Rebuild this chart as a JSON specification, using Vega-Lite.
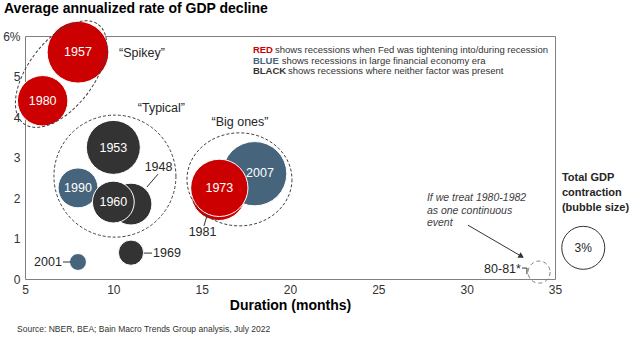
{
  "$schema": "https://vega.github.io/schema/vega-lite/v6.json",
  "width": 530,
  "height": 243,
  "autosize": {"type": "none"},
  "padding": {"left": 25, "top": 36, "right": 75, "bottom": 63},
  "title": {
    "text": "Average annualized rate of GDP decline",
    "anchor": "start",
    "frame": "group",
    "dx": -21,
    "dy": 14,
    "offset": 6,
    "baseline": "alphabetic",
    "fontSize": 14,
    "fontWeight": "bold",
    "color": "#000000"
  },
  "datasets": {
    "recessions": [
      {"year": "1981", "x": 15.95, "y": 2.12, "contraction": 2.85, "type": "Fed"},
      {"year": "2007", "x": 18, "y": 2.6, "contraction": 3.9, "type": "Financial"},
      {"year": "1973", "x": 16, "y": 2.25, "contraction": 3.1, "type": "Fed"},
      {"year": "1948", "x": 11, "y": 1.85, "contraction": 1.65, "type": "Neither"},
      {"year": "1990", "x": 8, "y": 2.25, "contraction": 1.5, "type": "Financial"},
      {"year": "1960", "x": 10, "y": 1.9, "contraction": 1.65, "type": "Neither"},
      {"year": "1953", "x": 10, "y": 3.25, "contraction": 2.75, "type": "Neither"},
      {"year": "1957", "x": 8, "y": 5.6, "contraction": 3.6, "type": "Fed"},
      {"year": "1980", "x": 6, "y": 4.4, "contraction": 2.4, "type": "Fed"},
      {"year": "1969", "x": 11, "y": 0.65, "contraction": 0.6, "type": "Neither"},
      {"year": "2001", "x": 8, "y": 0.42, "contraction": 0.27, "type": "Financial"}
    ],
    "combined": [
      {"label": "80-81*", "x": 34.1, "y": 0.17, "contraction": 0.46}
    ],
    "innerLabels": [
      {"text": "2007", "x": 18.3, "y": 2.62},
      {"text": "1973", "x": 16, "y": 2.25},
      {"text": "1990", "x": 8, "y": 2.25},
      {"text": "1960", "x": 10, "y": 1.9},
      {"text": "1953", "x": 10, "y": 3.23},
      {"text": "1957", "x": 8, "y": 5.6},
      {"text": "1980", "x": 6, "y": 4.4}
    ],
    "centerLabels": [
      {"text": "1948", "x": 12.56, "y": 2.77},
      {"text": "1981", "x": 15.05, "y": 1.16}
    ],
    "leftLabels": [
      {"text": "1969", "x": 12.25, "y": 0.64}
    ],
    "rightLabels": [
      {"text": "2001", "x": 7.09, "y": 0.42},
      {"text": "80-81*", "x": 33.07, "y": 0.25}
    ],
    "leaders": [
      {"item": "1948", "x": 12.53, "y": 2.59, "x2": 11.9, "y2": 2.27},
      {"item": "1981", "x": 15.3, "y": 1.56, "x2": 15.13, "y2": 1.31},
      {"item": "1969", "x": 11.73, "y": 0.64, "x2": 12.19, "y2": 0.64},
      {"item": "2001", "x": 7.15, "y": 0.42, "x2": 7.6, "y2": 0.42},
      {"item": "80-81 a", "x": 33.13, "y": 0.27, "x2": 33.41, "y2": 0.27},
      {"item": "80-81 b", "x": 33.41, "y": 0.27, "x2": 33.41, "y2": 0.12},
      {"item": "arrow", "x": 30.07, "y": 1.33, "x2": 33.18, "y2": 0.54}
    ],
    "arrowHead": [
      {"item": "arrow", "x": 33.1, "y": 0.56}
    ],
    "groupNames": [
      {"text": "\u201cSpikey\u201d", "x": 11.62, "y": 5.58},
      {"text": "\u201cTypical\u201d", "x": 12.72, "y": 4.22},
      {"text": "\u201cBig ones\u201d", "x": 17.17, "y": 3.88}
    ],
    "legendKeys": [
      {"text": "RED", "type": "Fed", "x": 17.9, "y": 5.65},
      {"text": "BLUE", "type": "Financial", "x": 17.9, "y": 5.38},
      {"text": "BLACK", "type": "Neither", "x": 17.9, "y": 5.13}
    ],
    "legendRest": [
      {"text": "shows recessions when Fed was tightening into/during recession", "x": 19.15, "y": 5.65},
      {"text": "shows recessions in large financial economy era", "x": 19.53, "y": 5.38},
      {"text": "shows recessions where neither factor was present", "x": 19.89, "y": 5.13}
    ],
    "note": [
      {"text": "If we treat 1980-1982", "x": 27.75, "y": 2.0},
      {"text": "as one continuous", "x": 27.75, "y": 1.68},
      {"text": "event", "x": 27.75, "y": 1.38}
    ],
    "sizeLegendTitle": [
      {"text": "Total GDP", "x": 35.39, "y": 2.49},
      {"text": "contraction", "x": 35.39, "y": 2.12},
      {"text": "(bubble size)", "x": 35.39, "y": 1.75}
    ],
    "sizeLegendCircle": [
      {"text": "3%", "x": 36.6, "y": 0.77}
    ],
    "source": [
      {"text": "Source: NBER, BEA; Bain Macro Trends Group analysis, July 2022", "x": 4.55, "y": -1.23}
    ]
  },
  "encoding": {
    "x": {
      "field": "x",
      "type": "quantitative",
      "scale": {"domain": [5, 35], "nice": false, "zero": false},
      "axis": {
        "values": [5, 10, 15, 20, 25, 30, 35],
        "title": "Duration (months)",
        "titleFontSize": 14,
        "titleFontWeight": "bold",
        "titleColor": "#000000",
        "titlePadding": 3,
        "labelFontSize": 12,
        "labelColor": "#333333",
        "labelPadding": 5,
        "labelFlush": false,
        "domain": false,
        "ticks": false,
        "tickSize": 0,
        "grid": false
      }
    },
    "y": {
      "field": "y",
      "type": "quantitative",
      "scale": {"domain": [0, 6], "nice": false, "zero": false},
      "axis": {
        "values": [0, 1, 2, 3, 4, 5, 6],
        "labelExpr": "datum.value == 6 ? '6%' : datum.label",
        "title": null,
        "labelFontSize": 12,
        "labelColor": "#333333",
        "labelPadding": 5,
        "domain": false,
        "ticks": false,
        "tickSize": 0,
        "grid": false
      }
    }
  },
  "layer": [
    {
      "data": {"name": "recessions"},
      "mark": {"type": "point", "shape": "circle", "filled": true, "opacity": 1, "stroke": "#ffffff", "strokeWidth": 1},
      "encoding": {
        "size": {"field": "contraction", "type": "quantitative", "scale": {"domain": [0, 4], "range": [0, 4240]}, "legend": null},
        "color": {"field": "type", "type": "nominal", "scale": {"domain": ["Fed", "Financial", "Neither"], "range": ["#CC0000", "#46647B", "#333333"]}, "legend": null}
      }
    },
    {
      "data": {"name": "combined"},
      "mark": {"type": "point", "shape": "circle", "filled": false, "opacity": 1, "stroke": "#808080", "strokeWidth": 1, "strokeDash": [4, 3]},
      "encoding": {
        "size": {"field": "contraction", "type": "quantitative", "scale": {"domain": [0, 4], "range": [0, 4240]}, "legend": null}
      }
    },
    {
      "data": {"values": [{"group": "Spikey", "x": 7.04, "y": 5.06}]},
      "mark": {"type": "point", "shape": "M 1 0 C 1 0.2927 0.5523 0.53 0 0.53 C -0.5523 0.53 -1 0.2927 -1 0 C -1 -0.2927 -0.5523 -0.53 0 -0.53 C 0.5523 -0.53 1 -0.2927 1 0 Z", "size": 15376, "angle": 307, "filled": false, "opacity": 1, "stroke": "#404040", "strokeWidth": 1, "strokeDash": [3, 2]}
    },
    {
      "data": {"values": [{"group": "Typical", "x": 10.09, "y": 2.54}]},
      "mark": {"type": "point", "shape": "circle", "size": 14884, "filled": false, "opacity": 1, "stroke": "#404040", "strokeWidth": 1, "strokeDash": [3, 2]}
    },
    {
      "data": {"values": [{"group": "Big ones", "x": 17.14, "y": 2.46}]},
      "mark": {"type": "point", "shape": "M 1 0 C 1 0.4893 0.5523 0.886 0 0.886 C -0.5523 0.886 -1 0.4893 -1 0 C -1 -0.4893 -0.5523 -0.886 0 -0.886 C 0.5523 -0.886 1 -0.4893 1 0 Z", "size": 11025, "filled": false, "opacity": 1, "stroke": "#404040", "strokeWidth": 1, "strokeDash": [3, 2]}
    },
    {
      "data": {"name": "innerLabels"},
      "mark": {"type": "text", "color": "#ffffff", "fontSize": 12.5, "align": "center", "baseline": "middle"},
      "encoding": {"text": {"field": "text"}}
    },
    {
      "data": {"name": "centerLabels"},
      "mark": {"type": "text", "color": "#262626", "fontSize": 12.5, "align": "center", "baseline": "middle"},
      "encoding": {"text": {"field": "text"}}
    },
    {
      "data": {"name": "leftLabels"},
      "mark": {"type": "text", "color": "#262626", "fontSize": 12.5, "align": "left", "baseline": "middle"},
      "encoding": {"text": {"field": "text"}}
    },
    {
      "data": {"name": "rightLabels"},
      "mark": {"type": "text", "color": "#262626", "fontSize": 12.5, "align": "right", "baseline": "middle"},
      "encoding": {"text": {"field": "text"}}
    },
    {
      "data": {"name": "leaders"},
      "mark": {"type": "rule", "color": "#333333", "strokeWidth": 1},
      "encoding": {
        "x2": {"field": "x2"},
        "y2": {"field": "y2"}
      }
    },
    {
      "data": {"name": "arrowHead"},
      "mark": {"type": "point", "shape": "triangle-right", "angle": 30, "size": 40, "filled": true, "opacity": 1, "color": "#333333"}
    },
    {
      "data": {"name": "groupNames"},
      "mark": {"type": "text", "color": "#262626", "fontSize": 12.5, "align": "center", "baseline": "middle"},
      "encoding": {"text": {"field": "text"}}
    },
    {
      "data": {"name": "legendKeys"},
      "mark": {"type": "text", "fontSize": 9.5, "fontWeight": "bold", "align": "left", "baseline": "middle"},
      "encoding": {
        "text": {"field": "text"},
        "color": {"field": "type", "type": "nominal", "scale": {"domain": ["Fed", "Financial", "Neither"], "range": ["#CC0000", "#46647B", "#333333"]}, "legend": null}
      }
    },
    {
      "data": {"name": "legendRest"},
      "mark": {"type": "text", "fontSize": 9.5, "color": "#333333", "align": "left", "baseline": "middle"},
      "encoding": {"text": {"field": "text"}}
    },
    {
      "data": {"name": "note"},
      "mark": {"type": "text", "fontSize": 10.5, "fontStyle": "italic", "color": "#404040", "align": "left", "baseline": "middle"},
      "encoding": {"text": {"field": "text"}}
    },
    {
      "data": {"name": "sizeLegendTitle"},
      "mark": {"type": "text", "fontSize": 11, "fontWeight": "bold", "color": "#262626", "align": "left", "baseline": "middle"},
      "encoding": {"text": {"field": "text"}}
    },
    {
      "data": {"name": "sizeLegendCircle"},
      "mark": {"type": "point", "shape": "circle", "size": 1849, "filled": false, "opacity": 1, "stroke": "#333333", "strokeWidth": 1}
    },
    {
      "data": {"name": "sizeLegendCircle"},
      "mark": {"type": "text", "fontSize": 12, "color": "#262626", "align": "center", "baseline": "middle"},
      "encoding": {"text": {"field": "text"}}
    },
    {
      "data": {"name": "source"},
      "mark": {"type": "text", "fontSize": 8.5, "color": "#333333", "align": "left", "baseline": "middle"},
      "encoding": {"text": {"field": "text"}}
    }
  ],
  "config": {
    "font": "Liberation Sans",
    "view": {"stroke": "#808080", "strokeWidth": 1},
    "background": "#ffffff"
  }
}
